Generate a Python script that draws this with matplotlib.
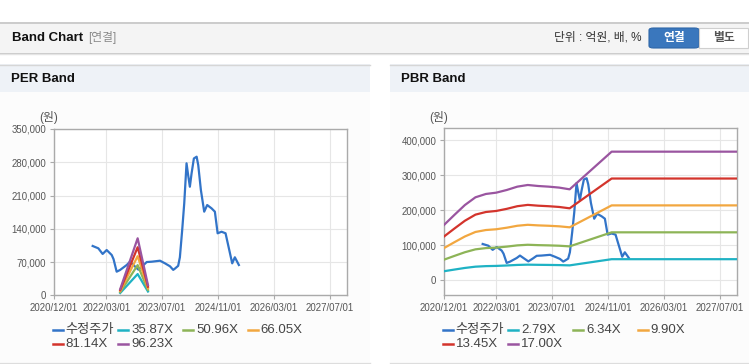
import numpy as np
import pandas as pd
import matplotlib
matplotlib.use('Agg')
import matplotlib.pyplot as plt
from matplotlib.lines import Line2D
from matplotlib.patches import Rectangle, FancyBboxPatch

plt.rcParams['font.family'] = ['Liberation Sans', 'Noto Sans CJK KR', 'DejaVu Sans']

# ---- data ----
price_dates = ['2021-11-03', '2021-12-22', '2022-01-29', '2022-03-05', '2022-04-18', '2022-05-04',
               '2022-05-31', '2022-06-29', '2022-08-27', '2022-09-24', '2022-10-23', '2022-12-06',
               '2023-01-13', '2023-02-17', '2023-04-01', '2023-06-13', '2023-07-26', '2023-09-08',
               '2023-10-06', '2023-10-20', '2023-11-18', '2023-12-03', '2023-12-23', '2024-01-10',
               '2024-01-30', '2024-02-13', '2024-02-28', '2024-03-14', '2024-04-03', '2024-04-27',
               '2024-05-11', '2024-06-03', '2024-07-02', '2024-07-28', '2024-09-04', '2024-10-03',
               '2024-10-27', '2024-11-30', '2025-01-04', '2025-03-03', '2025-03-26', '2025-04-30']
price = [103800, 98900, 87000, 95300, 84800, 76000,
         49700, 53200, 63800, 70700, 64000, 54000,
         62000, 70000, 70700, 72800, 67300, 61000,
         53500, 56000, 62000, 80000, 137000, 193600,
         277800, 253000, 228500, 256700, 288000, 291700,
         274000, 221600, 176000, 190000, 183000, 176000,
         130500, 133800, 130500, 67300, 80000, 63800]

# PER band: EPS points
eps_dates = ['2022-07-01', '2022-11-30', '2023-02-28']
eps = [135, 1247, 222]
per_mult = [35.87, 50.96, 66.05, 81.14, 96.23]

# PBR band: BPS points
bps_dates = ['2020-12-01', '2021-03-01', '2021-06-01', '2021-09-01', '2021-12-01', '2022-03-01',
             '2022-06-01', '2022-09-01', '2022-12-01', '2023-03-01', '2023-06-01', '2023-09-01',
             '2023-12-01', '2024-12-01', '2027-12-01']
bps = [9300, 10980, 12650, 13950, 14510, 14730,
       15180, 15740, 16020, 15850, 15740, 15580,
       15290, 21620, 21620]
pbr_mult = [2.79, 6.34, 9.90, 13.45, 17.00]

xtick_dates = ['2020-12-01', '2022-03-01', '2023-07-01', '2024-11-01', '2026-03-01', '2027-07-01']

price_color = '#3274c8'
band_colors = ['#1fb2c4', '#8db457', '#f2a740', '#d3342c', '#9a55a0']

W, H = 749, 364
fig = plt.figure(figsize=(W / 100, H / 100), dpi=100)


def fx(x):
    return x / W


def fy(y):
    return 1 - y / H


def rect(x0, y0, x1, y1, color):
    fig.patches.append(Rectangle((fx(x0), fy(y1)), (x1 - x0) / W, (y1 - y0) / H,
                                 transform=fig.transFigure, facecolor=color,
                                 edgecolor='none', zorder=-10))


def hline(x0, x1, y, color, lw=1.0):
    fig.add_artist(Line2D([fx(x0), fx(x1)], [fy(y), fy(y)], transform=fig.transFigure,
                          color=color, lw=lw, zorder=-5))


# header bar
rect(0, 22, W, 52, '#f4f4f4')
hline(0, W, 22.5, '#c4c4c4', 1.2)
hline(0, W, 52.5, '#c8c8c8', 1.0)
hline(0, W, 53.5, '#e4e4e4', 1.0)
fig.text(fx(12), fy(38), 'Band Chart', fontsize=9.5, fontweight='bold', color='#111111', va='center')
fig.text(fx(88), fy(38), '[연결]', fontsize=8.5, color='#8a8a8a', va='center')
fig.text(fx(642), fy(38), '단위 : 억원, 배, %', fontsize=8.5, color='#333333', va='center', ha='right')
fig.patches.append(FancyBboxPatch((fx(649), fy(48)), 50 / W, 20 / H, transform=fig.transFigure,
                                  boxstyle='round,pad=0,rounding_size=0.006',
                                  facecolor='#3a77bd', edgecolor='#2e66a8', lw=0.8, zorder=-4))
fig.text(fx(674), fy(38), '연결', fontsize=8.5, fontweight='bold', color='white', ha='center', va='center')
fig.patches.append(Rectangle((fx(699), fy(48)), 49 / W, 20 / H, transform=fig.transFigure,
                             facecolor='white', edgecolor='#cfcfcf', lw=0.8, zorder=-4))
fig.text(fx(723.5), fy(38), '별도', fontsize=8.5, fontweight='bold', color='#555555', ha='center', va='center')

# panels
for (x0, x1, title) in [(0, 370, 'PER Band'), (390, W, 'PBR Band')]:
    rect(x0, 64, x1, 92, '#eef2f7')
    rect(x0, 92, x1, 362, '#fcfcfc')
    hline(x0, x1, 64.5, '#d6d6d6', 1.0)
    hline(x0, x1, 362.5, '#dddddd', 1.0)
    fig.text(fx(x0 + 11), fy(79), title, fontsize=9.5, fontweight='bold', color='#111111', va='center')

xt = pd.to_datetime(xtick_dates)
xlim = (pd.Timestamp('2020-12-01'), pd.Timestamp('2027-12-01'))


def style_axes(ax, ylim, yticks):
    ax.set_facecolor('white')
    ax.set_xlim(xlim)
    ax.set_ylim(ylim)
    ax.set_yticks(yticks)
    ax.set_yticklabels([f'{v:,}' for v in yticks])
    ax.set_xticks(xt)
    ax.set_xticklabels([d.strftime('%Y/%m/%d') for d in xt])
    ax.grid(True, color='#e6e6e6', lw=0.8)
    ax.set_axisbelow(True)
    for s in ax.spines.values():
        s.set_color('#aaaaaa')
        s.set_linewidth(1.0)
    ax.tick_params(axis='both', length=3, width=0.8, color='#aaaaaa', labelsize=6.9,
                   labelcolor='#555555', pad=2.5)


# PER
ax1 = fig.add_axes([fx(54), fy(295.3), 293.3 / W, 166.3 / H])
pd_price = pd.to_datetime(price_dates)
ax1.plot(pd_price, price, color=price_color, lw=1.6, zorder=3)
ed = pd.to_datetime(eps_dates)
for m, c in zip(per_mult, band_colors):
    ax1.plot(ed, [e * m for e in eps], color=c, lw=1.6, zorder=4)
style_axes(ax1, (0, 350000), list(range(0, 350001, 70000)))
fig.text(fx(49), fy(117), '(원)', fontsize=8.5, color='#555555', ha='center', va='center')

# PBR
ax2 = fig.add_axes([fx(444), fy(295), 293.3 / W, 166.7 / H])
ax2.plot(pd_price, price, color=price_color, lw=1.6, zorder=3)
bd = pd.to_datetime(bps_dates)
for m, c in zip(pbr_mult, band_colors):
    ax2.plot(bd, [b * m for b in bps], color=c, lw=1.6, zorder=4)
style_axes(ax2, (-42000, 434300), list(range(0, 400001, 100000)))
fig.text(fx(439), fy(118), '(원)', fontsize=8.5, color='#555555', ha='center', va='center')

# legends
def legend_row(entries, y):
    for x, label, c in entries:
        fig.add_artist(Line2D([fx(x), fx(x + 10)], [fy(y), fy(y)], transform=fig.transFigure,
                              color=c, lw=1.8))
        fig.text(fx(x + 13), fy(y), label, fontsize=9.5, color='#444444', va='center')


per_labels = ['수정주가'] + [f'{m:.2f}X' for m in per_mult]
pbr_labels = ['수정주가'] + [f'{m:.2f}X' for m in pbr_mult]
colors = [price_color] + band_colors
for base, labels in [(52.7, per_labels), (442.7, pbr_labels)]:
    xs = [base, base + 65.5, base + 130.5, base + 195]
    legend_row([(xs[i], labels[i], colors[i]) for i in range(4)], 330)
    legend_row([(xs[i - 4], labels[i], colors[i]) for i in range(4, 6)], 344)

fig.savefig('out.png', dpi=100)
